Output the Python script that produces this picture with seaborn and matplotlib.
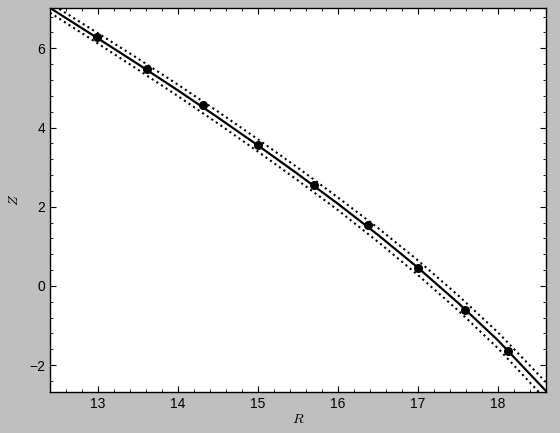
import numpy as np
import pandas as pd
import matplotlib
matplotlib.use('Agg')
import matplotlib.pyplot as plt
import seaborn as sns
from matplotlib.ticker import MultipleLocator

# measured points
r_pts = [12.99, 13.61, 14.31, 15.00, 15.70, 16.375, 17.00, 17.59, 18.125]
z_pts = [6.28, 5.47, 4.56, 3.57, 2.56, 1.54, 0.46, -0.61, -1.65]

# fitted curve and the two dotted bounds
r_fit = [12.4, 13.0, 13.5, 14.0, 14.5, 15.0, 15.5, 16.0, 16.5, 17.0, 17.5, 18.0, 18.6, 18.7]
z_fit = [7.02, 6.25, 5.60, 4.935, 4.25, 3.545, 2.82, 2.07, 1.285, 0.455, -0.43, -1.38, -2.66, -2.88]
z_up = [7.14, 6.38, 5.74, 5.08, 4.40, 3.70, 2.98, 2.23, 1.46, 0.64, -0.24, -1.18, -2.44, -2.66]
z_lo = [6.90, 6.12, 5.46, 4.79, 4.10, 3.39, 2.66, 1.91, 1.11, 0.27, -0.62, -1.58, -2.88, -3.10]

fit_df = pd.DataFrame({'R': r_fit, 'Z': z_fit, 'up': z_up, 'lo': z_lo})
pts_df = pd.DataFrame({'R': r_pts, 'Z': z_pts})

sns.set_style('ticks')
plt.rcParams['font.family'] = ['Liberation Sans', 'DejaVu Sans']
plt.rcParams['mathtext.fontset'] = 'cm'

fig = plt.figure(figsize=(5.6, 4.33), dpi=100, facecolor='0.75')
ax = fig.add_axes([0.0893, 0.0947, 0.886, 0.887])
ax.set_facecolor('white')

sns.lineplot(data=fit_df, x='R', y='up', ax=ax, color='black', lw=1.5, ls=':', sort=False)
sns.lineplot(data=fit_df, x='R', y='lo', ax=ax, color='black', lw=1.5, ls=':', sort=False)
sns.lineplot(data=fit_df, x='R', y='Z', ax=ax, color='black', lw=1.6, sort=False)
ax.errorbar(pts_df['R'], pts_df['Z'], xerr=0.04, yerr=0.05, fmt='o', color='black',
            ms=5.5, elinewidth=1.2, capsize=0)

ax.set_xlim(12.4, 18.6)
ax.set_ylim(-2.68, 7.02)
ax.xaxis.set_major_locator(MultipleLocator(1))
ax.xaxis.set_minor_locator(MultipleLocator(0.2))
ax.yaxis.set_major_locator(MultipleLocator(2))
ax.yaxis.set_minor_locator(MultipleLocator(0.4))
ax.tick_params(which='both', direction='in', top=True, right=True, labelsize=10,
               color='black', labelcolor='black')
ax.tick_params(which='major', length=4, width=0.8)
ax.tick_params(which='minor', length=2, width=0.6)
for s in ax.spines.values():
    s.set_linewidth(1.0)
    s.set_color('black')

ax.set_xlabel('$R$', fontsize=10, labelpad=1, color='black')
ax.set_ylabel('$Z$', fontsize=10, labelpad=6, color='black')

fig.savefig('out.png', dpi=100, facecolor=fig.get_facecolor())
